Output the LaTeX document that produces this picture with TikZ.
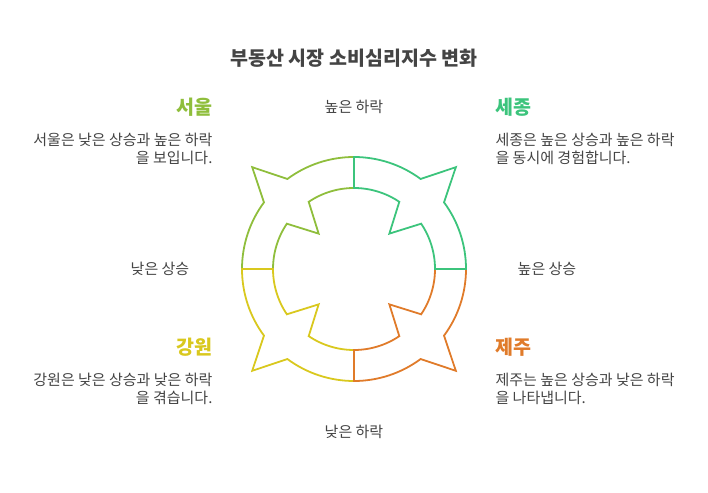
\documentclass[tikz,border=0pt]{standalone}
\usepackage{fontspec}
\setmainfont{Noto Sans CJK KR}
\definecolor{cTL}{HTML}{8FBE3C}
\definecolor{cTR}{HTML}{3CC47C}
\definecolor{cBR}{HTML}{E07B2A}
\definecolor{cBL}{HTML}{D9C81E}
\definecolor{txt}{HTML}{444444}
\begin{document}
\begin{tikzpicture}[x=1pt,y=1pt,
  ringpart/.style={line width=1.8pt,line join=miter},
  title/.style={font=\fontsize{19.5}{22}\selectfont\bfseries,text=txt},
  head/.style={font=\fontsize{19.5}{22}\selectfont\bfseries},
  desc/.style={font=\fontsize{15}{18}\selectfont,text=txt},
  small/.style={font=\fontsize{15}{17}\selectfont,text=txt}]
\useasboundingbox (0,0) rectangle (708,492);
\node[title] (t) at (354,434) {부동산 시장 소비심리지수 변화};
\begin{scope}[shift={(354,223)}]
\foreach \r/\c in {0/cTL,90/cBL,180/cBR,270/cTR}{
\begin{scope}[rotate=\r]
\draw[ringpart,\c] (90:112) arc[start angle=90,end angle=126.5,radius=112]
  -- (135:144) -- (143.5:112) arc[start angle=143.5,end angle=180,radius=112]
  -- (180:81) arc[start angle=180,end angle=146,radius=81]
  -- (135:50) -- (124:81) arc[start angle=124,end angle=90,radius=81] -- cycle;
\end{scope}}
\end{scope}
\node[small] (n1) at (354,385) {높은 하락};
\node[small] (n2) at (160,223) {낮은 상승};
\node[small] (n3) at (547,223) {높은 상승};
\node[small] (n4) at (354,60) {낮은 하락};
\node[head,text=cTL,anchor=east] (h1) at (216,385) {서울};
\node[desc,anchor=north east,align=right] (d1) at (216,362) {서울은 낮은 상승과 높은 하락\\을 보입니다.};
\node[head,text=cTR,anchor=west] (h2) at (492,385) {세종};
\node[desc,anchor=north west,align=left] (d2) at (492,362) {세종은 높은 상승과 높은 하락\\을 동시에 경험합니다.};
\node[head,text=cBL,anchor=east] (h3) at (216,145) {강원};
\node[desc,anchor=north east,align=right] (d3) at (216,122) {강원은 낮은 상승과 낮은 하락\\을 겪습니다.};
\node[head,text=cBR,anchor=west] (h4) at (492,145) {제주};
\node[desc,anchor=north west,align=left] (d4) at (492,122) {제주는 높은 상승과 낮은 하락\\을 나타냅니다.};
\end{tikzpicture}
\end{document}
